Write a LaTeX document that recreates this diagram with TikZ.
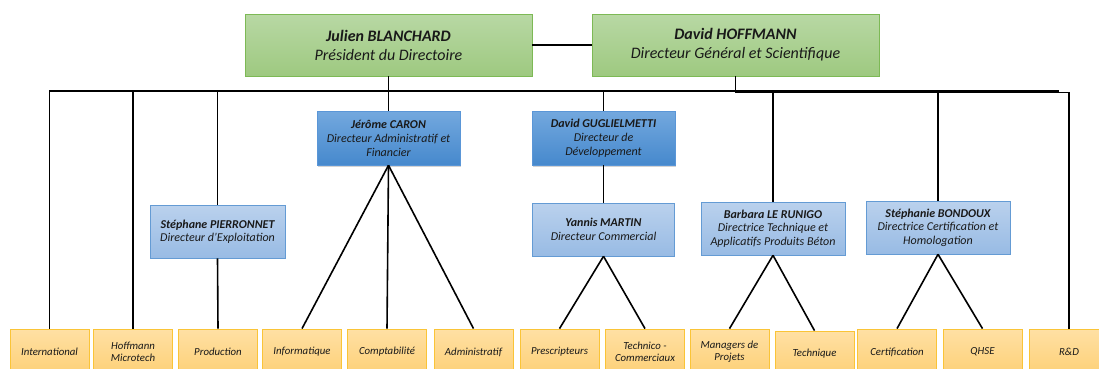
\documentclass[tikz,border=0pt]{standalone}
\usepackage{fontspec}
\setmainfont{Carlito}
\usetikzlibrary{shadows}
\definecolor{gtop}{RGB}{184,216,164}
\definecolor{gbot}{RGB}{158,201,128}
\definecolor{gdraw}{RGB}{125,185,85}
\definecolor{btop}{RGB}{115,168,222}
\definecolor{bbot}{RGB}{70,137,205}
\definecolor{bdraw}{RGB}{90,150,215}
\definecolor{ltop}{RGB}{186,209,237}
\definecolor{lbot}{RGB}{152,187,228}
\definecolor{ldraw}{RGB}{100,155,212}
\definecolor{otop}{RGB}{255,224,164}
\definecolor{obot}{RGB}{253,208,118}
\definecolor{odraw}{RGB}{250,196,55}
\definecolor{txt}{RGB}{25,25,25}
\tikzset{
  topbox/.style={draw=gdraw, line width=0.8pt, top color=gtop, bottom color=gbot,
    minimum width=287pt, minimum height=62pt, inner sep=0pt, align=center, text=txt,
    font=\fontsize{16}{19}\selectfont\itshape},
  darkbox/.style={draw=bdraw, line width=0.6pt, top color=btop, bottom color=bbot,
    drop shadow={opacity=0.35, shadow xshift=1.2pt, shadow yshift=-1.5pt},
    minimum height=54pt, inner sep=0pt, align=center, text=txt,
    font=\fontsize{12}{14}\selectfont\itshape},
  lightbox/.style={draw=ldraw, line width=0.6pt, top color=ltop, bottom color=lbot,
    drop shadow={opacity=0.15, shadow xshift=0.8pt, shadow yshift=-1pt},
    minimum height=53pt, inner sep=0pt, align=center, text=txt,
    font=\fontsize{12}{13.5}\selectfont\itshape},
  unitbox/.style={draw=odraw, line width=0.8pt, top color=otop, bottom color=obot,
    minimum width=79pt, minimum height=46pt, inner sep=0pt, align=center, text=txt,
    font=\fontsize{10.8}{12}\selectfont\itshape},
  conn/.style={draw=black, line width=1.6pt}
}
\begin{document}
\begin{tikzpicture}[x=1pt,y=-1pt]
\useasboundingbox (0,0) rectangle (1099,368);
\clip (0,0) rectangle (1099,368);

% top
\node[topbox] (J) at (388.5,45) {\textbf{Julien BLANCHARD}\\Président du Directoire};
\node[topbox] (D) at (735.5,45) {\textbf{David HOFFMANN}\\Directeur Général et Scientifique};

% directors
\node[darkbox, minimum width=143pt] (caron) at (388.5,138) {\textbf{Jérôme CARON}\\Directeur Administratif et\\Financier};
\node[darkbox, minimum width=143pt] (gug) at (603.5,138) {\textbf{David GUGLIELMETTI}\\Directeur de\\Développement};
\node[lightbox, minimum width=135pt] (pier) at (217.5,231.5) {\textbf{Stéphane PIERRONNET}\\Directeur d’Exploitation};
\node[lightbox, minimum width=142pt] (martin) at (603.5,229.5) {\textbf{Yannis MARTIN}\\Directeur Commercial};
\node[lightbox, minimum width=144pt] (barb) at (773,228.5) {\textbf{Barbara LE RUNIGO}\\Directrice Technique et\\Applicatifs Produits Béton};
\node[lightbox, minimum width=144pt] (bond) at (938,227.5) {\textbf{Stéphanie BONDOUX}\\Directrice Certification et\\Homologation};

% units
\node[unitbox] (intl) at (49.5,352) {International};
\node[unitbox] (hoff) at (133,352) {Hoffmann\\Microtech};
\node[unitbox] (prod) at (218,352) {Production};
\node[unitbox] (info) at (302,352) {Informatique};
\node[unitbox] (compta) at (387,352) {Comptabilité};
\node[unitbox] (admin) at (473.5,352) {Administratif};
\node[unitbox] (presc) at (559.5,352) {Prescripteurs};
\node[unitbox] (techco) at (645,352) {Technico -\\Commerciaux};
\node[unitbox] (manag) at (729.5,352) {Managers de\\Projets};
\node[unitbox] (techn) at (814.5,354) {Technique};
\node[unitbox] (certif) at (897,352) {Certification};
\node[unitbox] (qhse) at (982.5,352) {QHSE};
\node[unitbox] (rd) at (1069,352) {R\&D};

% connectors
\coordinate (bus1) at (388.5,91);
\coordinate (busE) at (1059,91);
\coordinate (bus2) at (1069,92.5);
\draw[conn] (J.east) -- (D.west);
\draw[conn] (J.south) -- (bus1);
\draw[conn] (intl.north) |- (bus1) -- (busE);
\draw[conn] (D.south) |- (bus2) -- (rd.north);
\draw[conn] (hoff.north) -- (hoff.north |- bus1);
\draw[conn] (pier.north) -- (pier.north |- bus1);
\draw[conn] (pier.south) -- (prod.north);
\draw[conn] (caron.north) -- (caron.north |- bus1);
\draw[conn] (gug.north) -- (gug.north |- bus1);
\draw[conn] (gug.south) -- (martin.north);
\draw[conn] (barb.north) -- (barb.north |- bus1);
\draw[conn] (bond.north) -- (bond.north |- bus1);
\draw[conn] (caron.south) -- (info.north);
\draw[conn] (caron.south) -- (compta.north);
\draw[conn] (caron.south) -- (admin.north);
\draw[conn] (martin.south) -- (presc.north);
\draw[conn] (martin.south) -- (techco.north);
\draw[conn] (barb.south) -- (manag.north);
\draw[conn] (barb.south) -- (techn.north);
\draw[conn] (bond.south) -- (certif.north);
\draw[conn] (bond.south) -- (qhse.north);
\end{tikzpicture}
\end{document}
